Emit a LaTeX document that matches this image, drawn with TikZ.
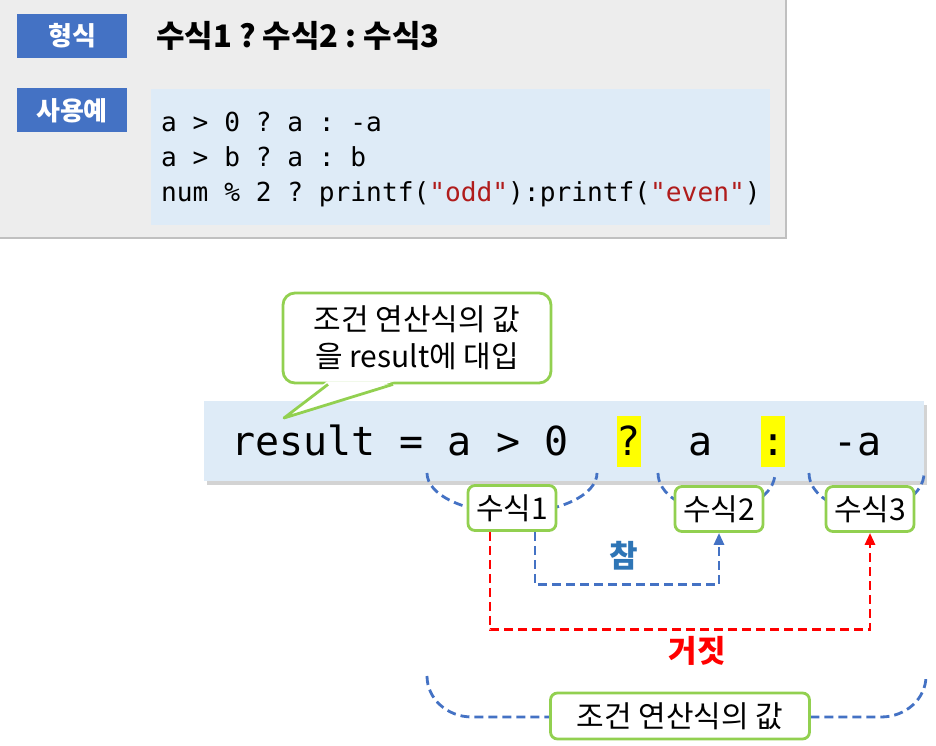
\documentclass[tikz,border=0pt]{standalone}
\usepackage{fontspec}
\setmainfont{Noto Sans CJK KR}
\setmonofont{DejaVu Sans Mono}
\usepackage{xcolor}
\usetikzlibrary{arrows.meta}
\usetikzlibrary{shadows}
\definecolor{panelgray}{HTML}{EDEDED}
\definecolor{panelline}{HTML}{C0C0C0}
\definecolor{tagblue}{HTML}{4472C4}
\definecolor{codeblue}{HTML}{DEEBF7}
\definecolor{strred}{HTML}{B01C1C}
\definecolor{okgreen}{HTML}{92D050}
\definecolor{dashblue}{HTML}{4472C4}
\definecolor{dashred}{HTML}{FF0000}
\definecolor{trueblue}{HTML}{2E75B6}
\definecolor{hlyellow}{HTML}{FFFF00}
\newcommand{\hlchar}[1]{{\setlength{\fboxsep}{0pt}\colorbox{hlyellow}{\rule[-11pt]{0pt}{51pt}#1}}}
\frenchspacing

\begin{document}
\begin{tikzpicture}[x=1pt, y=1pt,
    tag/.style={fill=tagblue, text=white, font=\bfseries\fontsize{26}{30}\selectfont, minimum width=110pt, minimum height=44pt, inner sep=0pt},
    code/.style={anchor=base west, inner sep=0pt, font=\ttfamily\frenchspacing\fontsize{26.2}{30}\selectfont},
    part/.style={draw=okgreen, line width=2.8pt, rounded corners=7pt, fill=white, minimum width=88pt, minimum height=45pt, inner sep=0pt, font=\fontsize{30}{34}\selectfont},
    brace/.style={draw=dashblue, line width=2.8pt, dash pattern=on 9pt off 5pt},
    trueline/.style={draw=dashblue, line width=2.8pt, dash pattern=on 9pt off 5pt, -{Triangle[length=12pt,width=10pt]}},
    falseline/.style={draw=dashred, line width=2.8pt, dash pattern=on 9pt off 5pt, -{Triangle[length=12pt,width=10pt]}}]
\useasboundingbox (0,0) rectangle (936,746);

\fill[panelgray] (0,508) rectangle (786,746);
\draw[panelline, line width=1.5pt] (0,508) -- (786,508) -- (786,746);
\node[tag]  (form)    at ( 72, 710 )     {형식};
\node[tag]  (usage)   at ( 72, 635.5 )   {사용예};
\node       (syntax)  at ( 156, 710 )    [anchor=west, inner sep=0pt, font=\bfseries\fontsize{31}{34}\selectfont] {수식1 ? 수식2 : 수식3};
\node       (codebox) at ( 460.5, 589 )  [fill=codeblue, minimum width=619pt, minimum height=136pt, inner sep=0pt] {};
\node[code] (code1)   at ( 161, 614 )    {a > 0 ? a : -a};
\node[code] (code2)   at ( 161, 579 )    {a > b ? a : b};
\node[code] (code3)   at ( 161, 544 )    {num \% 2 ? printf(\textcolor{strred}{"odd"}):printf(\textcolor{strred}{"even"})};

\node       (bar)     at ( 564, 305 )    [fill=codeblue, minimum width=720pt, minimum height=80pt, inner sep=0pt, drop shadow={shadow xshift=3pt, shadow yshift=-4pt, opacity=0.35}] {};
\node       (expr)    at ( 231, 290 )    [anchor=base west, inner sep=0pt, font=\ttfamily\fontsize{40}{48}\selectfont] {result = a > 0~~\hlchar{?}~~a~~\hlchar{:}~~-a};

\node       (callout) at ( 417, 408 )    [draw=okgreen, line width=2.8pt, fill=white, rounded corners=12pt, minimum width=268pt, minimum height=90pt, inner sep=0pt, align=center, font=\fontsize{30}{37}\selectfont] {조건 연산식의 값\\을 result에 대입};
\coordinate (tip) at ( 284, 328 );
\fill[white] ([xshift=-90pt, yshift=3pt]callout.south) -- (tip) -- ([xshift=-23pt, yshift=3pt]callout.south) -- cycle;
\draw[okgreen, line width=2.8pt, line join=round] ([xshift=-89pt]callout.south) -- (tip) -- ([xshift=-24pt]callout.south);

\draw[brace] ( 427, 273 ) arc[start angle=180, end angle=360, x radius=85pt, y radius=40pt];
\draw[brace] ( 658, 273 ) arc[start angle=180, end angle=360, x radius=58.5pt, y radius=38pt];
\draw[brace] ( 809, 273 ) arc[start angle=180, end angle=360, x radius=57.5pt, y radius=38pt];
\node[part] (s1) at ( 512, 238 ) {수식1};
\node[part] (s2) at ( 719, 237 ) {수식2};
\node[part] (s3) at ( 870, 237 ) {수식3};

\draw[falseline] ([xshift=-22pt]s1.south) -- ++(0,-98) -| (s3.south);
\draw[trueline]  ([xshift=23pt]s1.south) -- ++(0,-53) -| (s2.south);
\node (true)  at ( 624, 190 ) [text=trueblue, font=\bfseries\fontsize{31}{34}\selectfont] {참};
\node (false) at ( 697, 95 )  [text=dashred, font=\bfseries\fontsize{31}{34}\selectfont] {거짓};

\draw[brace] ( 427, 70 ) arc[start angle=180, end angle=270, x radius=45pt, y radius=41pt] -- ( 881, 29 ) arc[start angle=270, end angle=360, x radius=45pt, y radius=41pt];
\node[part, minimum width=259pt, minimum height=46pt] (value) at ( 680, 30 ) {조건 연산식의 값};
\end{tikzpicture}
\end{document}
